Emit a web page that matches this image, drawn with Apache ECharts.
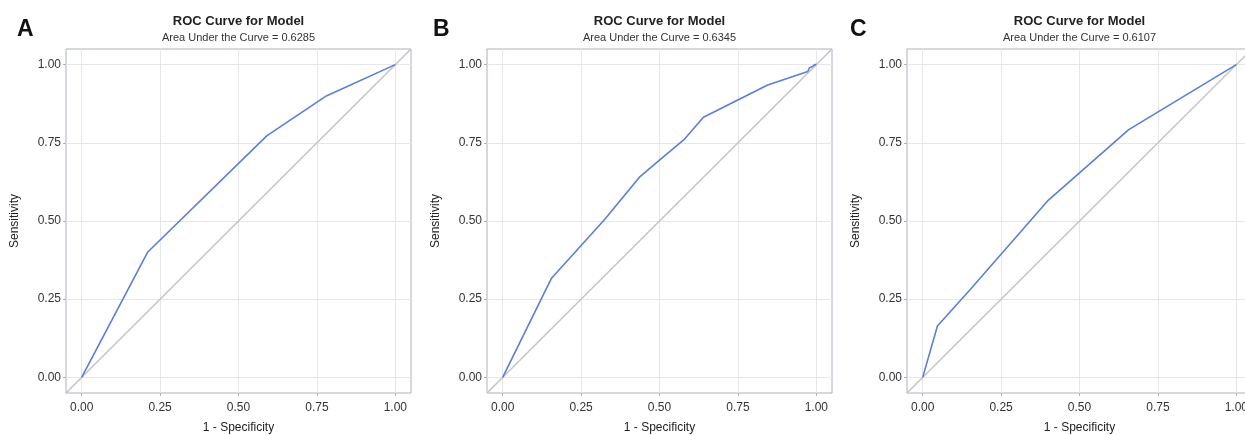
<!DOCTYPE html>
<html>
<head>
<meta charset="utf-8">
<title>ROC Curves</title>
<script src="https://cdn.jsdelivr.net/npm/echarts@6/dist/echarts.min.js"></script>
<style>
  html, body { margin: 0; padding: 0; background: #fff; }
  #chart { width: 1245px; height: 435px; }
</style>
</head>
<body>
<div id="chart"></div>
<script>
// panel letters and AUC values
const panelLetters = ['A', 'B', 'C'];
const aucValues = ['0.6285', '0.6345', '0.6107'];

// ROC points (1 - specificity, sensitivity)
const fprA = [0, 0.21, 0.59, 0.78, 1];
const tprA = [0, 0.40, 0.772, 0.90, 1];

const fprB = [0, 0.155, 0.325, 0.438, 0.50, 0.578, 0.64, 0.845, 0.973, 0.978, 0.986, 0.995, 1];
const tprB = [0, 0.316, 0.505, 0.642, 0.695, 0.76, 0.832, 0.935, 0.978, 0.99, 0.993, 1, 1];

const fprC = [0, 0.047, 0.151, 0.401, 0.657, 1];
const tprC = [0, 0.164, 0.28, 0.567, 0.792, 1];

// chance diagonal runs corner to corner of the plot frame
const diagX = [-0.05, 1.05];
const diagY = [-0.05, 1.05];

// axis ticks
const tickValues = [0, 0.25, 0.5, 0.75, 1];
const axisMin = -0.05;
const axisMax = 1.05;

const curves = [[fprA, tprA], [fprB, tprB], [fprC, tprC]];

function pairs(xs, ys) {
    return xs.map((x, i) => [x, ys[i]]);
}

// layout
const gridLefts = [66, 487, 907];
const gridTop = 49;
const gridW = 345;
const gridH = 344;
const letterLefts = [12, 428, 845];

const labelColor = '#333';
const frameColor = '#aab1bd';
const splitColor = '#e5e7eb';
const curveColor = '#5b7fd4';
const diagColor = '#c4c4c4';
const fontFamily = '"Liberation Sans", Arial, sans-serif';

let option = {
    animation: false,
    backgroundColor: '#fff',
    title: [],
    grid: [],
    xAxis: [],
    yAxis: [],
    series: []
};

panelLetters.forEach((letter, i) => {
    option.title.push({
        text: letter,
        left: letterLefts[i],
        top: 13,
        textStyle: { fontSize: 23, fontWeight: 'bold', color: '#111', fontFamily: fontFamily }
    });
    option.title.push({
        text: 'ROC Curve for Model',
        subtext: 'Area Under the Curve = ' + aucValues[i],
        left: gridLefts[i] + gridW / 2,
        top: 13,
        textAlign: 'center',
        itemGap: 2,
        padding: 0,
        textStyle: { fontSize: 13, fontWeight: 'bold', color: '#222', lineHeight: 16, fontFamily: fontFamily },
        subtextStyle: { fontSize: 11, color: '#333', lineHeight: 13, fontFamily: fontFamily }
    });

    option.grid.push({
        left: gridLefts[i],
        top: gridTop,
        width: gridW,
        height: gridH,
        outerBoundsMode: 'none',
        containLabel: false,
        show: true,
        borderColor: frameColor,
        borderWidth: 1
    });

    option.xAxis.push({
        type: 'value',
        gridIndex: i,
        min: axisMin,
        max: axisMax,
        name: '1 - Specificity',
        nameLocation: 'middle',
        nameGap: 29,
        nameTextStyle: { fontSize: 12, color: '#222', fontFamily: fontFamily },
        axisLine: { show: false, onZero: false },
        axisTick: { show: true, length: 3, customValues: tickValues, lineStyle: { color: frameColor } },
        axisLabel: {
            customValues: tickValues,
            margin: 9,
            fontSize: 12,
            color: labelColor,
            fontFamily: fontFamily,
            formatter: v => v.toFixed(2)
        },
        splitLine: { show: true, lineStyle: { color: splitColor, width: 1 } }
    });

    option.yAxis.push({
        type: 'value',
        gridIndex: i,
        min: axisMin,
        max: axisMax,
        name: 'Sensitivity',
        nameLocation: 'middle',
        nameGap: 45,
        nameTextStyle: { fontSize: 12, color: '#222', fontFamily: fontFamily },
        axisLine: { show: false, onZero: false },
        axisTick: { show: true, length: 3, customValues: tickValues, lineStyle: { color: frameColor } },
        axisLabel: {
            customValues: tickValues,
            margin: 5,
            fontSize: 12,
            color: labelColor,
            fontFamily: fontFamily,
            formatter: v => v.toFixed(2)
        },
        splitLine: { show: true, lineStyle: { color: splitColor, width: 1 } }
    });

    // chance line
    option.series.push({
        type: 'line',
        xAxisIndex: i,
        yAxisIndex: i,
        data: pairs(diagX, diagY),
        symbol: 'none',
        silent: true,
        lineStyle: { color: diagColor, width: 1.5 },
        z: 2
    });

    // ROC curve
    option.series.push({
        type: 'line',
        xAxisIndex: i,
        yAxisIndex: i,
        data: pairs(curves[i][0], curves[i][1]),
        symbol: 'none',
        lineStyle: { color: curveColor, width: 1.6 },
        z: 3
    });
});

const myChart = echarts.init(document.getElementById('chart'), null, { renderer: 'canvas' });
myChart.setOption(option);
</script>
</body>
</html>
